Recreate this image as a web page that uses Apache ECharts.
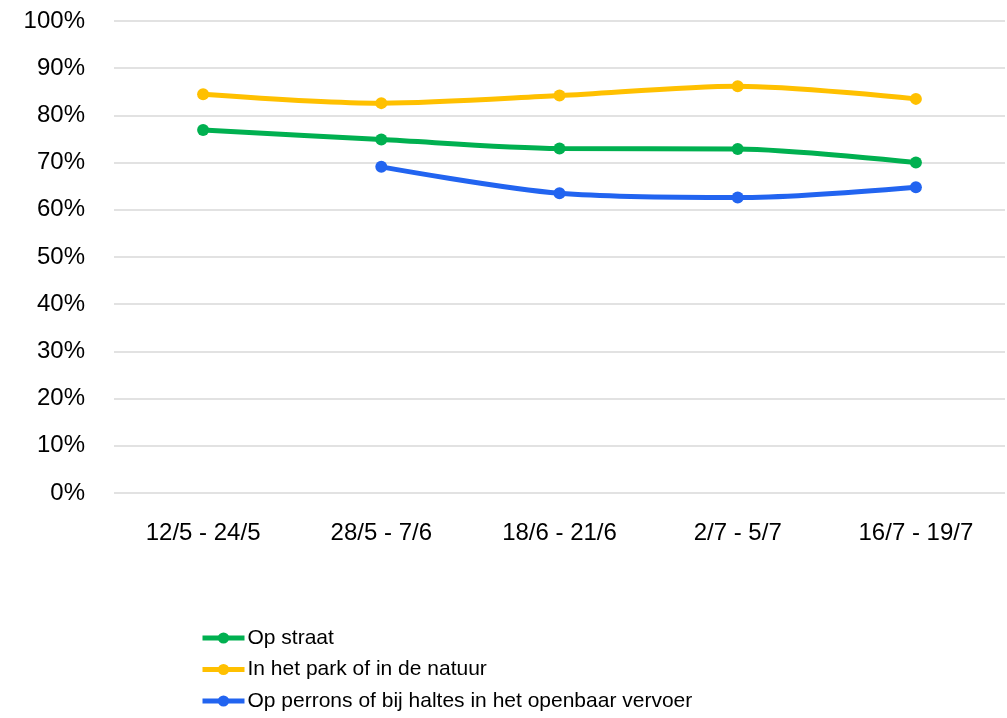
<!DOCTYPE html>
<html><head><meta charset="utf-8">
<script src="https://cdn.jsdelivr.net/npm/echarts@6/dist/echarts.min.js"></script>
<style>html,body{margin:0;padding:0;background:#fff}#c{width:1007px;height:718px}</style>
</head><body><div id="c"></div>
<script>
const categories = ['12/5 - 24/5', '28/5 - 7/6', '18/6 - 21/6', '2/7 - 5/7', '16/7 - 19/7'];
const opStraat = [76.9, 74.9, 73.0, 72.9, 70.0];
const inPark = [84.5, 82.6, 84.2, 86.2, 83.5];
const opPerrons = [null, 69.1, 63.5, 62.6, 64.8];
const names = ['Op straat', 'In het park of in de natuur', 'Op perrons of bij haltes in het openbaar vervoer'];
const colors = ['#00B050', '#FFC000', '#2264F0'];
const FONT = 'Liberation Sans';
const chart = echarts.init(document.getElementById('c'));
const mk = (name, data, color) => ({
  name, type: 'line', data, smooth: 0.3, connectNulls: false,
  symbol: 'circle', symbolSize: 12,
  lineStyle: { width: 5, color }, itemStyle: { color }
});
chart.setOption({
  animation: false,
  textStyle: { fontFamily: FONT },
  grid: { left: 114, right: 2, top: 21, bottom: 225 },
  xAxis: {
    type: 'category', data: categories, boundaryGap: true,
    axisLine: { show: false }, axisTick: { show: false },
    axisLabel: { color: '#000', fontSize: 24, fontFamily: FONT, margin: 28 }
  },
  yAxis: {
    type: 'value', min: 0, max: 100, interval: 10,
    axisLine: { show: false }, axisTick: { show: false },
    axisLabel: { color: '#000', fontSize: 24, fontFamily: FONT, margin: 29, formatter: '{value}%' },
    splitLine: { lineStyle: { color: '#d9d9d9', width: 1.5 } }
  },
  legend: {
    orient: 'vertical', left: 200, top: 626, padding: 0, itemGap: 7.5,
    itemWidth: 42, itemHeight: 14,
    lineStyle: { width: 5 },
    textStyle: { color: '#000', fontSize: 21, lineHeight: 24, fontFamily: FONT, padding: [0,0,0,-2] },
    data: names
  },
  series: [mk(names[0], opStraat, colors[0]), mk(names[1], inPark, colors[1]), mk(names[2], opPerrons, colors[2])]
});
</script></body></html>
